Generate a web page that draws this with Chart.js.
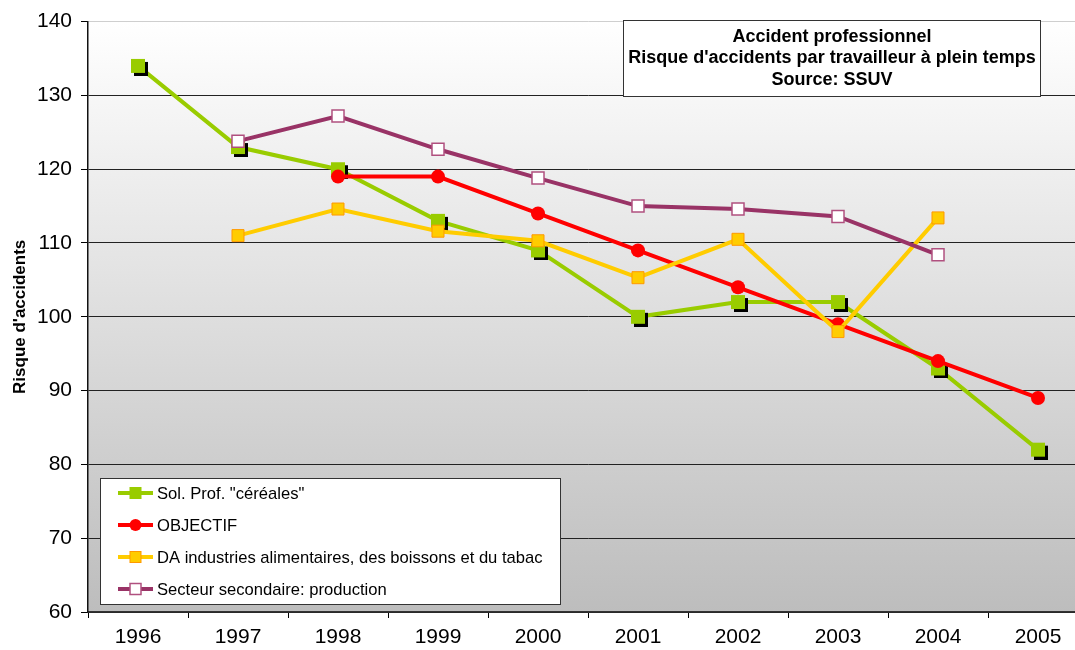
<!DOCTYPE html>
<html>
<head>
<meta charset="utf-8">
<script src="https://cdn.jsdelivr.net/npm/chart.js@4/dist/chart.umd.min.js"></script>
<style>
  html, body { margin: 0; padding: 0; background: #fff; overflow: hidden; }
  #wrap { width: 1100px; height: 650px; }
</style>
</head>
<body>
<div id="wrap"><canvas id="risque" width="1100" height="650"></canvas></div>
<script>
// years on the x axis
let years = ['1996', '1997', '1998', '1999', '2000', '2001', '2002', '2003', '2004', '2005'];

// series
let cereales  = [134, 123, 120, 113, 109, 100, 102, 102, 93, 82];
let objectif  = [null, null, 119, 119, 114, 109, 104, 99, 94, 89];
let daAliment = [null, 111, 114.6, 111.6, 110.3, 105.3, 110.5, 98, 113.4, null];
let secteur   = [null, 123.8, 127.2, 122.7, 118.8, 115, 114.6, 113.6, 108.4, null];

let seriesNames = ['Sol. Prof. "céréales"', 'OBJECTIF', 'DA industries alimentaires, des boissons et du tabac', 'Secteur secondaire: production'];
let titleLines = ['Accident professionnel', "Risque d'accidents par travailleur à plein temps", 'Source: SSUV'];

let FONT = "'Liberation Sans', Arial, Helvetica, sans-serif";

// green square with a black drop shadow, like the original marker
function shadowSquare() {
  var c = document.createElement('canvas');
  c.width = 20; c.height = 20;
  var g = c.getContext('2d');
  g.fillStyle = '#000';
  g.fillRect(6, 6, 14, 14);
  g.fillStyle = '#99cc00';
  g.fillRect(3, 3, 14, 14);
  return c;
}

// plot area shading, white at top to grey at bottom
var bgPlugin = {
  id: 'bg',
  beforeDraw: function(chart) {
    var a = chart.chartArea, c = chart.ctx;
    var grad = c.createLinearGradient(0, a.top, 0, a.bottom);
    grad.addColorStop(0, '#ffffff');
    grad.addColorStop(1, '#bdbdbd');
    c.save();
    c.fillStyle = grad;
    c.fillRect(a.left, a.top, a.right - a.left, a.bottom - a.top);
    c.restore();
  }
};

function legendMarker(c, i, x, y) {
  c.save();
  if (i == 0) {
    c.fillStyle = '#99cc00';
    c.fillRect(x - 6, y - 6, 12, 12);
  } else if (i == 1) {
    c.fillStyle = '#ff0000';
    c.beginPath();
    c.arc(x, y, 6, 0, Math.PI * 2);
    c.fill();
  } else if (i == 2) {
    c.fillStyle = '#ffcc00';
    c.strokeStyle = '#ff9900';
    c.lineWidth = 1;
    c.fillRect(x - 5.5, y - 5.5, 11, 11);
    c.strokeRect(x - 5.5, y - 5.5, 11, 11);
  } else {
    c.fillStyle = '#ffffff';
    c.strokeStyle = '#b0507f';
    c.lineWidth = 1.5;
    c.fillRect(x - 5.5, y - 5.5, 11, 11);
    c.strokeRect(x - 5.5, y - 5.5, 11, 11);
  }
  c.restore();
}

// title box and legend box drawn inside the plot
var boxesPlugin = {
  id: 'boxes',
  afterDraw: function(chart) {
    var c = chart.ctx;
    c.save();
    // title box
    c.fillStyle = '#fff';
    c.fillRect(623.5, 20.5, 417, 76);
    c.strokeStyle = '#333';
    c.lineWidth = 1;
    c.strokeRect(623.5, 20.5, 417, 76);
    c.fillStyle = '#000';
    c.font = 'bold 18px ' + FONT;
    c.textAlign = 'center';
    c.textBaseline = 'middle';
    for (var t = 0; t < titleLines.length; t++) {
      c.fillText(titleLines[t], 832, 37 + t * 21.5);
    }
    // legend box
    c.fillStyle = '#fff';
    c.fillRect(100.5, 478.5, 460, 126);
    c.strokeRect(100.5, 478.5, 460, 126);
    c.font = '16.6px ' + FONT;
    c.textAlign = 'left';
    var ds = chart.data.datasets;
    for (var i = 0; i < ds.length; i++) {
      var y = 493 + i * 32;
      c.strokeStyle = ds[i].borderColor;
      c.lineWidth = 4;
      c.beginPath();
      c.moveTo(118, y);
      c.lineTo(153, y);
      c.stroke();
      legendMarker(c, i, 135.5, y);
      c.fillStyle = '#000';
      c.fillText(ds[i].label, 157, y + 1);
    }
    c.restore();
  }
};

var ctx = document.getElementById('risque').getContext('2d');

window.risqueChart = new Chart(ctx, {
  type: 'line',
  data: {
    labels: years,
    datasets: [{
      label: seriesNames[0],
      data: cereales,
      borderColor: '#99cc00',
      borderWidth: 4,
      pointStyle: shadowSquare(),
      order: 4
    }, {
      label: seriesNames[1],
      data: objectif,
      borderColor: '#ff0000',
      backgroundColor: '#ff0000',
      borderWidth: 4,
      pointStyle: 'circle',
      pointRadius: 7,
      pointBorderWidth: 0,
      pointBackgroundColor: '#ff0000',
      order: 3
    }, {
      label: seriesNames[2],
      data: daAliment,
      borderColor: '#ffcc00',
      borderWidth: 4,
      pointStyle: 'rect',
      pointRadius: 8.5,
      pointBorderWidth: 1,
      pointBorderColor: '#ff9900',
      pointBackgroundColor: '#ffcc00',
      order: 2
    }, {
      label: seriesNames[3],
      data: secteur,
      borderColor: '#993366',
      borderWidth: 4,
      pointStyle: 'rect',
      pointRadius: 8.5,
      pointBorderWidth: 1.5,
      pointBorderColor: '#b0507f',
      pointBackgroundColor: '#ffffff',
      order: 1
    }]
  },
  options: {
    responsive: false,
    animation: false,
    layout: { padding: { top: 20, right: 12, left: 0, bottom: 0 } },
    elements: { line: { tension: 0 } },
    plugins: {
      legend: { display: false },
      title: { display: false },
      tooltip: { enabled: false }
    },
    scales: {
      x: {
        offset: true,
        grid: {
          offset: true,
          drawOnChartArea: false,
          drawTicks: true,
          tickLength: 6,
          color: '#000'
        },
        border: { display: true, color: '#333', width: 1.5 },
        ticks: {
          color: '#000',
          font: { family: FONT, size: 21 },
          padding: 7,
          maxRotation: 0
        },
        afterFit: function(scale) { scale.height = 38; }
      },
      y: {
        min: 60,
        max: 140,
        ticks: {
          stepSize: 10,
          color: '#000',
          font: { family: FONT, size: 21 },
          padding: 9
        },
        grid: {
          color: function(c) { return c.tick && c.tick.value == 140 ? '#cfcfcf' : '#222'; },
          tickColor: '#000',
          tickLength: 7,
          lineWidth: 1
        },
        border: { display: true, color: '#111', width: 1.5 },
        title: {
          display: true,
          text: "Risque d'accidents",
          color: '#000',
          font: { family: FONT, size: 17, weight: 'bold' },
          padding: { top: 10, bottom: 0 }
        },
        afterFit: function(scale) { scale.width = 88; }
      }
    }
  },
  plugins: [bgPlugin, boxesPlugin]
});
</script>
</body>
</html>
